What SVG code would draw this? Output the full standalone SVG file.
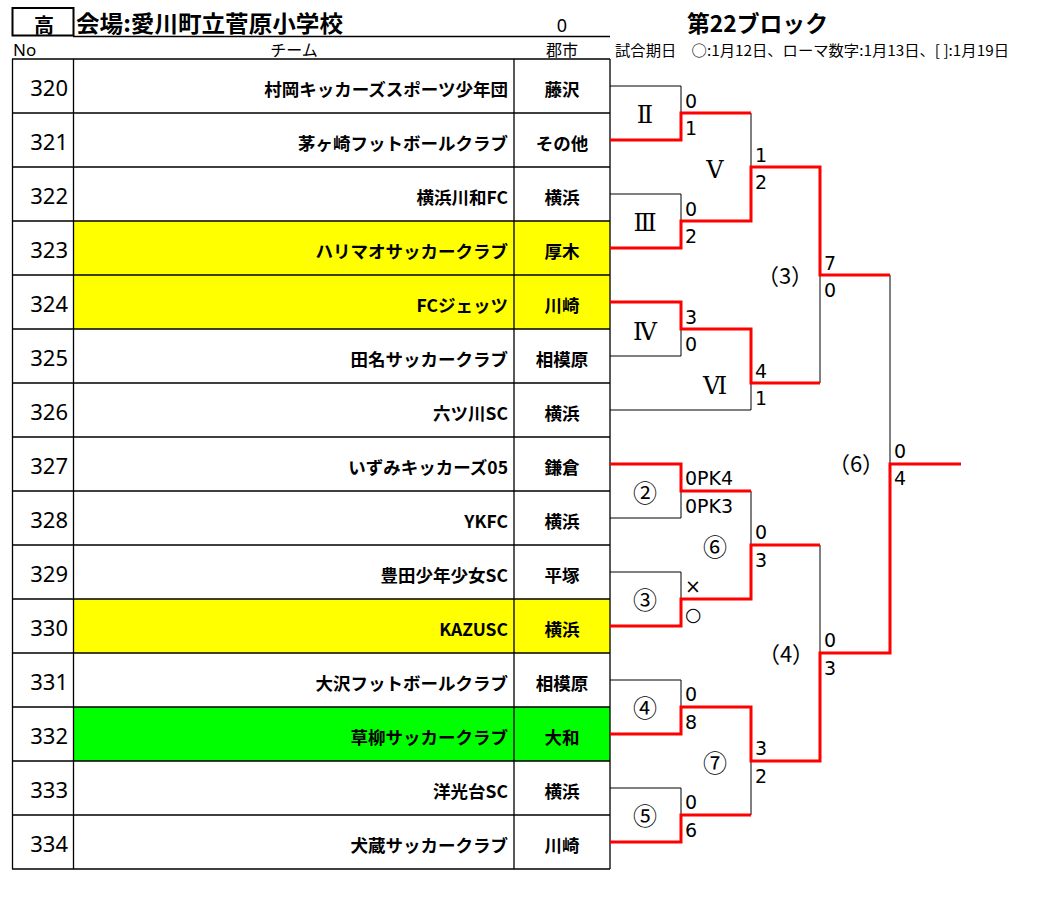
<svg xmlns="http://www.w3.org/2000/svg" width="1062" height="897" viewBox="0 0 1062 897">
<style>
.bg{fill:#fff}
.grid{stroke:#000;stroke-width:1.3;fill:none}
.blk{stroke:#000;stroke-width:1;fill:none}
.red{stroke:#ff0000;stroke-width:3;fill:none;stroke-linejoin:miter}
.no{font-family:"Noto Sans","DejaVu Sans",sans-serif;font-size:22px;text-anchor:end;fill:#000}
.team{font-family:"Noto Sans CJK JP","Noto Sans",sans-serif;font-size:17.5px;font-weight:bold;text-anchor:end;fill:#000}
.city{font-family:"Noto Sans CJK JP",sans-serif;font-size:17.5px;font-weight:bold;text-anchor:middle;fill:#000}
.hdr{font-family:"Noto Sans CJK JP",sans-serif;font-size:16px;fill:#000}
.sc{font-family:"DejaVu Sans","Noto Sans CJK JP",sans-serif;font-size:19px;fill:#000}
.rom{font-family:"DejaVu Serif","DejaVu Sans",serif;font-size:24px;text-anchor:middle;fill:#000}
.cir{font-family:"Noto Sans CJK JP",sans-serif;font-size:24px;text-anchor:middle;fill:#000}
.par{font-family:"Noto Sans CJK JP",sans-serif;font-size:22px;text-anchor:middle;fill:#000}
</style>
<rect class="bg" x="0" y="0" width="1062" height="897"/>
<g id="header">
<rect x="12.5" y="8" width="61" height="27.5" fill="none" stroke="#000" stroke-width="2"/>
<text x="44" y="33" font-family="Noto Sans CJK JP,sans-serif" font-size="20" font-weight="bold" text-anchor="middle">高</text>
<text x="76" y="32" font-family="Noto Sans CJK JP,sans-serif" font-size="23" font-weight="bold" textLength="267" lengthAdjust="spacingAndGlyphs">会場:愛川町立菅原小学校</text>
<text x="562" y="32" font-family="Noto Sans,DejaVu Sans,sans-serif" font-size="18" text-anchor="middle">0</text>
<line x1="73" y1="36.5" x2="610" y2="36.5" stroke="#000" stroke-width="1.3"/>
<text x="13" y="56" font-family="Noto Sans,sans-serif" font-size="17">No</text>
<text x="294" y="56" class="hdr" text-anchor="middle">チーム</text>
<text x="562" y="56" class="hdr" text-anchor="middle">郡市</text>
<text x="687" y="32" font-family="Noto Sans CJK JP,sans-serif" font-size="23" font-weight="bold" textLength="141" lengthAdjust="spacingAndGlyphs">第22ブロック</text>
<text x="615" y="56" font-family="Noto Sans CJK JP,sans-serif" font-size="14.5" textLength="394" lengthAdjust="spacingAndGlyphs">試合期日　○:1月12日、ローマ数字:1月13日、[ ]:1月19日</text>
</g>
<g id="table">
<rect x="73.5" y="221" width="536.5" height="108" fill="#ffff00"/>
<rect x="73.5" y="599" width="536.5" height="54" fill="#ffff00"/>
<rect x="73.5" y="707" width="536.5" height="54" fill="#00ff00"/>
<path class="grid" d="M12,59H610M12,113H610M12,167H610M12,221H610M12,275H610M12,329H610M12,383H610M12,437H610M12,491H610M12,545H610M12,599H610M12,653H610M12,707H610M12,761H610M12,815H610M12,869H610M12.5,59V869M73.5,59V869M514,59V869M610,59V869"/>
</g>
<g id="teams">
<g id="t320"><text class="no" x="68" y="96">320</text><text class="team" x="508" y="96">村岡キッカーズスポーツ少年団</text><text class="city" x="562" y="96">藤沢</text></g>
<g id="t321"><text class="no" x="68" y="150">321</text><text class="team" x="508" y="150">茅ヶ崎フットボールクラブ</text><text class="city" x="562" y="150">その他</text></g>
<g id="t322"><text class="no" x="68" y="204">322</text><text class="team" x="508" y="204">横浜川和FC</text><text class="city" x="562" y="204">横浜</text></g>
<g id="t323"><text class="no" x="68" y="258">323</text><text class="team" x="508" y="258">ハリマオサッカークラブ</text><text class="city" x="562" y="258">厚木</text></g>
<g id="t324"><text class="no" x="68" y="312">324</text><text class="team" x="508" y="312">FCジェッツ</text><text class="city" x="562" y="312">川崎</text></g>
<g id="t325"><text class="no" x="68" y="366">325</text><text class="team" x="508" y="366">田名サッカークラブ</text><text class="city" x="562" y="366">相模原</text></g>
<g id="t326"><text class="no" x="68" y="420">326</text><text class="team" x="508" y="420">六ツ川SC</text><text class="city" x="562" y="420">横浜</text></g>
<g id="t327"><text class="no" x="68" y="474">327</text><text class="team" x="508" y="474">いずみキッカーズ05</text><text class="city" x="562" y="474">鎌倉</text></g>
<g id="t328"><text class="no" x="68" y="528">328</text><text class="team" x="508" y="528">YKFC</text><text class="city" x="562" y="528">横浜</text></g>
<g id="t329"><text class="no" x="68" y="582">329</text><text class="team" x="508" y="582">豊田少年少女SC</text><text class="city" x="562" y="582">平塚</text></g>
<g id="t330"><text class="no" x="68" y="636">330</text><text class="team" x="508" y="636">KAZUSC</text><text class="city" x="562" y="636">横浜</text></g>
<g id="t331"><text class="no" x="68" y="690">331</text><text class="team" x="508" y="690">大沢フットボールクラブ</text><text class="city" x="562" y="690">相模原</text></g>
<g id="t332"><text class="no" x="68" y="744">332</text><text class="team" x="508" y="744">草柳サッカークラブ</text><text class="city" x="562" y="744">大和</text></g>
<g id="t333"><text class="no" x="68" y="798">333</text><text class="team" x="508" y="798">洋光台SC</text><text class="city" x="562" y="798">横浜</text></g>
<g id="t334"><text class="no" x="68" y="852">334</text><text class="team" x="508" y="852">犬蔵サッカークラブ</text><text class="city" x="562" y="852">川崎</text></g>
</g>
<g id="connectors">
<path class="blk" d="M610,86H681V113M610,194H681V221M751,113V167M610,356H681V329M610,410H751V383M820,275V383M890,275V464M610,518H681V491M610,572H681V599M751,491V545M820,545V653M610,680H681V707M610,788H681V815M751,761V815"/>
<path class="red" d="M610,140H681V113H751"/>
<path class="red" d="M610,248H681V221H751V167H820V275H890"/>
<path class="red" d="M610,302H681V329H751V383H820"/>
<path class="red" d="M610,464H681V491H751"/>
<path class="red" d="M610,626H681V599H751V545H820"/>
<path class="red" d="M610,734H681V707H751V761H820V653H890V464H961"/>
<path class="red" d="M610,842H681V815H751"/>
</g>
<g id="matches">
<g id="m2"><text class="rom" x="645" y="123">Ⅱ</text><text class="sc" x="685" y="108">0</text><text class="sc" x="685" y="135">1</text></g>
<g id="m3"><text class="rom" x="645" y="231">Ⅲ</text><text class="sc" x="685" y="216">0</text><text class="sc" x="685" y="243">2</text></g>
<g id="m5"><text class="rom" x="715" y="178">Ⅴ</text><text class="sc" x="755" y="162">1</text><text class="sc" x="755" y="189">2</text></g>
<g id="m4"><text class="rom" x="645" y="340">Ⅳ</text><text class="sc" x="685" y="324">3</text><text class="sc" x="685" y="351">0</text></g>
<g id="m6"><text class="rom" x="715" y="394">Ⅵ</text><text class="sc" x="755" y="378">4</text><text class="sc" x="755" y="405">1</text></g>
<g id="q3"><text class="par" x="785" y="284">（3）</text><text class="sc" x="824" y="270">7</text><text class="sc" x="824" y="297">0</text></g>
<g id="q6"><text class="par" x="856" y="472">（6）</text><text class="sc" x="894" y="458">0</text><text class="sc" x="894" y="485">4</text></g>
<g id="c2"><text class="cir" x="645" y="502">②</text><text class="sc" x="685" y="485">0PK4</text><text class="sc" x="685" y="513">0PK3</text></g>
<g id="c3"><text class="cir" x="645" y="609">③</text><text class="sc" x="685" y="593">×</text><text class="sc" x="685" y="621">○</text></g>
<g id="c6"><text class="cir" x="715" y="556">⑥</text><text class="sc" x="755" y="539">0</text><text class="sc" x="755" y="567">3</text></g>
<g id="q4"><text class="par" x="786" y="662">（4）</text><text class="sc" x="824" y="647">0</text><text class="sc" x="824" y="675">3</text></g>
<g id="c4"><text class="cir" x="645" y="717">④</text><text class="sc" x="685" y="701">0</text><text class="sc" x="685" y="729">8</text></g>
<g id="c7"><text class="cir" x="715" y="772">⑦</text><text class="sc" x="755" y="755">3</text><text class="sc" x="755" y="783">2</text></g>
<g id="c5"><text class="cir" x="645" y="825">⑤</text><text class="sc" x="685" y="809">0</text><text class="sc" x="685" y="837">6</text></g>
</g>
</svg>
